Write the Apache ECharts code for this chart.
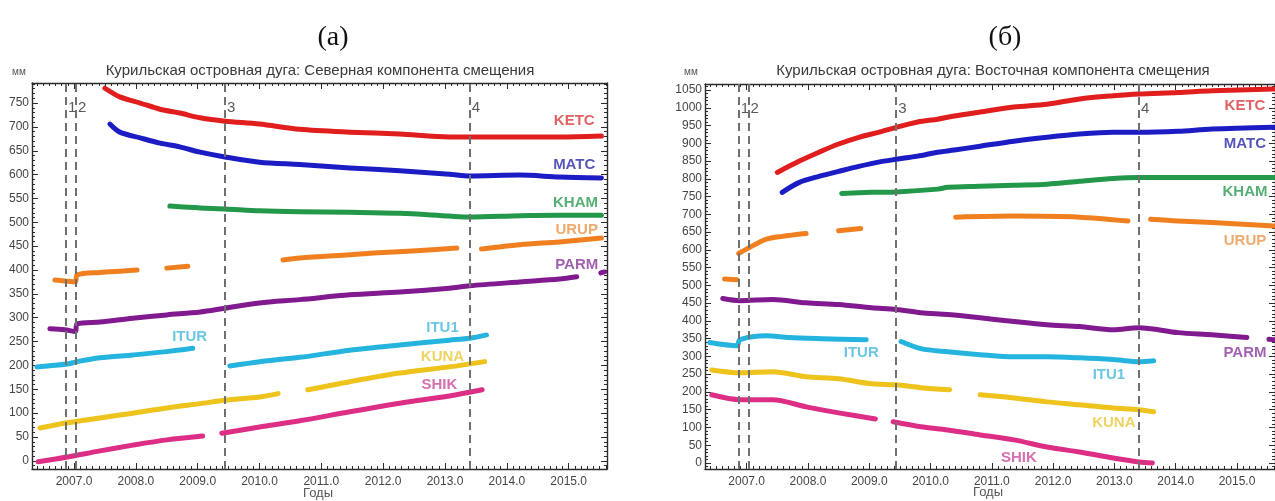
<!DOCTYPE html>
<html>
<head>
<meta charset="utf-8">
<title>Курильская островная дуга</title>
<script src="https://cdn.jsdelivr.net/npm/echarts@6/dist/echarts.min.js"></script>
<style>
  html, body { margin: 0; padding: 0; background: #ffffff; }
  #chart { width: 1275px; height: 501px; }
</style>
</head>
<body>
<div id="chart"></div>
<script>
// ---------- Data: GPS displacement time series, mm vs decimal year ----------
const xTickYears = [2007, 2008, 2009, 2010, 2011, 2012, 2013, 2014, 2015];
const northTicks = [0, 50, 100, 150, 200, 250, 300, 350, 400, 450, 500, 550, 600, 650, 700, 750];
const eastTicks = [0, 50, 100, 150, 200, 250, 300, 350, 400, 450, 500, 550, 600, 650, 700, 750, 800, 850, 900, 950, 1000, 1050];

// Events marked with dashed verticals
const eventYears = [2006.87, 2007.03, 2009.44, 2013.40];
const eventNames = ['1', '2', '3', '4'];

// North component (a); each station is a list of continuous segments
const ketcN = [[[2007.50, 781], [2007.74, 763], [2008.07, 750], [2008.39, 737], [2008.71, 729], [2009.04, 719], [2009.44, 712], [2010.00, 706], [2010.65, 695], [2011.46, 689], [2012.27, 685], [2013.07, 679], [2013.40, 679], [2014.21, 679], [2014.85, 679], [2015.53, 681]]];
const matcN = [[[2007.58, 706], [2007.74, 689], [2008.07, 677], [2008.39, 666], [2008.71, 658], [2009.04, 647], [2009.44, 637], [2010.00, 626], [2010.65, 621], [2011.46, 614], [2012.27, 608], [2013.07, 601], [2013.40, 597], [2014.21, 599], [2014.85, 595], [2015.53, 593]]];
const khamN = [[[2008.55, 534], [2009.04, 530], [2009.44, 528], [2010.00, 524], [2010.65, 522], [2011.46, 521], [2012.27, 519], [2013.07, 513], [2013.40, 511], [2014.21, 514], [2014.85, 515], [2015.53, 515]]];
const urupN = [
  [[2006.69, 379], [2006.85, 377], [2007.02, 375], [2007.05, 390], [2007.42, 395], [2007.80, 398], [2008.02, 400]],
  [[2008.50, 404], [2008.84, 408]],
  [[2010.38, 421], [2010.65, 425], [2011.46, 432], [2011.91, 436], [2012.60, 441], [2013.19, 446]],
  [[2013.59, 444], [2014.21, 453], [2014.85, 459], [2015.53, 467]]
];
const parmN = [
  [[2006.61, 277], [2006.85, 275], [2007.02, 271], [2007.05, 287], [2007.42, 291], [2007.95, 299], [2008.50, 306], [2009.04, 312], [2009.44, 320], [2010.00, 331], [2010.65, 338], [2011.46, 348], [2012.27, 354], [2013.07, 362], [2013.40, 367], [2014.21, 375], [2014.85, 381], [2015.13, 386]],
  [[2015.52, 394], [2015.58, 396]]
];
const iturN = [[[2006.40, 197], [2006.89, 203], [2007.05, 208], [2007.42, 216], [2007.95, 222], [2008.50, 229], [2008.92, 236]]];
const itu1N = [[[2009.52, 199], [2010.00, 208], [2010.65, 217], [2011.46, 232], [2012.27, 243], [2013.07, 253], [2013.40, 257], [2013.67, 264]]];
const kunaN = [
  [[2006.45, 69], [2006.89, 80], [2007.42, 90], [2007.95, 100], [2008.50, 111], [2009.04, 120], [2009.44, 127], [2010.00, 134], [2010.30, 141]],
  [[2010.78, 149], [2011.46, 166], [2012.27, 184], [2013.07, 197], [2013.64, 208]]
];
const shikN = [
  [[2006.42, -2], [2006.89, 8], [2007.42, 21], [2007.95, 33], [2008.50, 44], [2009.08, 52]],
  [[2009.39, 58], [2010.00, 71], [2010.65, 84], [2011.46, 103], [2012.27, 121], [2013.07, 136], [2013.60, 149]]
];

// East component (b)
const ketcE = [[[2007.50, 818], [2007.86, 850], [2008.18, 875], [2008.50, 898], [2008.83, 917], [2009.15, 931], [2009.44, 945], [2009.79, 960], [2010.12, 968], [2010.39, 977], [2010.81, 988], [2011.36, 1002], [2011.90, 1010], [2012.43, 1025], [2012.98, 1034], [2013.40, 1039], [2014.04, 1043], [2014.59, 1048], [2015.60, 1053]]];
const matcE = [[[2007.58, 762], [2007.86, 790], [2008.18, 807], [2008.50, 821], [2008.83, 835], [2009.15, 847], [2009.44, 855], [2009.79, 864], [2010.12, 875], [2010.39, 881], [2010.81, 892], [2011.36, 906], [2011.90, 917], [2012.43, 926], [2012.98, 931], [2013.40, 931], [2014.04, 934], [2014.59, 940], [2015.60, 945]]];
const khamE = [[[2008.55, 759], [2009.04, 762], [2009.44, 763], [2010.12, 771], [2010.28, 776], [2010.81, 779], [2011.36, 782], [2011.90, 785], [2012.43, 793], [2012.98, 801], [2013.40, 804], [2014.04, 804], [2014.59, 804], [2015.60, 804]]];
const urupE = [
  [[2006.64, 518], [2006.84, 516]],
  [[2006.87, 590], [2007.05, 607], [2007.32, 630], [2007.58, 638], [2007.97, 646]],
  [[2008.50, 654], [2008.86, 660]],
  [[2010.41, 692], [2011.36, 695], [2012.43, 692], [2013.22, 681]],
  [[2013.59, 686], [2014.04, 681], [2014.59, 677], [2015.60, 667]]
];
const parmE = [
  [[2006.61, 463], [2006.89, 457], [2007.42, 460], [2007.97, 451], [2008.50, 446], [2009.04, 437], [2009.44, 432], [2009.84, 423], [2010.28, 418], [2010.81, 409], [2011.36, 398], [2011.90, 389], [2012.43, 384], [2012.98, 375], [2013.40, 381], [2014.04, 367], [2014.59, 361], [2015.16, 353]],
  [[2015.52, 348], [2015.60, 347]]
];
const iturE = [[[2006.40, 339], [2006.84, 330], [2006.89, 347], [2007.32, 358], [2007.69, 353], [2008.23, 350], [2008.95, 347]]];
const itu1E = [[[2009.52, 342], [2009.84, 322], [2010.28, 313], [2010.81, 305], [2011.36, 299], [2011.90, 299], [2012.43, 296], [2012.98, 291], [2013.40, 285], [2013.64, 288]]];
const kunaE = [
  [[2006.43, 262], [2006.89, 254], [2007.42, 257], [2007.97, 243], [2008.50, 237], [2009.04, 223], [2009.44, 220], [2009.84, 212], [2010.31, 206]],
  [[2010.81, 192], [2011.36, 183], [2011.90, 172], [2012.43, 164], [2012.98, 155], [2013.40, 150], [2013.64, 144]]
];
const shikE = [
  [[2006.43, 192], [2006.89, 178], [2007.42, 178], [2007.97, 158], [2008.50, 141], [2009.10, 124]],
  [[2009.39, 116], [2009.84, 102], [2010.28, 93], [2010.81, 79], [2011.36, 65], [2011.90, 45], [2012.43, 31], [2012.98, 14], [2013.40, 3], [2013.62, 0]]
];

// Station name annotations: [name, year, mm]
const northNames = [['KETC', 2015.09, 712], ['MATC', 2015.09, 620], ['KHAM', 2015.11, 541], ['URUP', 2015.13, 484], ['PARM', 2015.13, 411], ['ITUR', 2008.87, 260], ['ITU1', 2012.96, 279], ['KUNA', 2012.96, 218], ['SHIK', 2012.91, 159]];
const eastNames = [['KETC', 2015.13, 1005], ['MATC', 2015.13, 898], ['KHAM', 2015.13, 762], ['URUP', 2015.13, 624], ['PARM', 2015.13, 310], ['ITUR', 2008.87, 310], ['ITU1', 2012.91, 248], ['KUNA', 2012.99, 113], ['SHIK', 2011.44, 14]];

// ---------- Styling ----------
const lineColors = { KETC: '#e01e1e', MATC: '#1c1cc4', KHAM: '#23974a', URUP: '#f0801f', PARM: '#801a8e', ITUR: '#25b4de', ITU1: '#25b4de', KUNA: '#eec31b', SHIK: '#dd2e86' };
const nameColors = { KETC: '#d73a3a', MATC: '#2b2ba8', KHAM: '#2c9a52', URUP: '#e8954a', PARM: '#8a3a9c', ITUR: '#45b8da', ITU1: '#45b8da', KUNA: '#e9c83a', SHIK: '#c94b9c' };
const FRAME = '#2b2b2b';
const X_MIN = 2006.32, X_MAX = 2015.62;

function range(a, b, step) {
  const out = [];
  for (let v = a; v <= b + 1e-9; v += step) out.push(Math.round(v * 1000) / 1000);
  return out;
}
const xMinor = range(2006.4, 2015.6, 0.1);

function buildAxes(gi, yMin, yMax, yMajor) {
  const yMinor = range(Math.ceil(yMin / 10) * 10, yMax, 10);
  const line = { show: true, onZero: false, lineStyle: { color: FRAME, width: 1.4 } };
  const noLine = { show: false, onZero: false };
  const base = { gridIndex: gi, type: 'value', splitLine: { show: false }, silent: true };
  const xs = [
    Object.assign({}, base, { min: X_MIN, max: X_MAX, position: 'bottom', axisLine: line,
      axisTick: { show: true, inside: true, length: 6, customValues: xTickYears, lineStyle: { color: FRAME } },
      axisLabel: { show: true, customValues: xTickYears, formatter: v => v.toFixed(1), color: '#454545', fontSize: 12, fontFamily: 'Liberation Sans, Arial, sans-serif', margin: 7 } }),
    Object.assign({}, base, { min: X_MIN, max: X_MAX, position: 'bottom', axisLine: noLine,
      axisTick: { show: true, inside: true, length: 3, customValues: xMinor, lineStyle: { color: FRAME } }, axisLabel: { show: false } }),
    Object.assign({}, base, { min: X_MIN, max: X_MAX, position: 'top', axisLine: line,
      axisTick: { show: true, inside: true, length: 6, customValues: xTickYears, lineStyle: { color: FRAME } }, axisLabel: { show: false } }),
    Object.assign({}, base, { min: X_MIN, max: X_MAX, position: 'top', axisLine: noLine,
      axisTick: { show: true, inside: true, length: 3, customValues: xMinor, lineStyle: { color: FRAME } }, axisLabel: { show: false } })
  ];
  const ys = [
    Object.assign({}, base, { min: yMin, max: yMax, position: 'left', axisLine: line,
      axisTick: { show: true, inside: true, length: 6, customValues: yMajor, lineStyle: { color: FRAME } },
      axisLabel: { show: true, customValues: yMajor, formatter: v => String(Math.round(v)), color: '#454545', fontSize: 12, fontFamily: 'Liberation Sans, Arial, sans-serif', margin: 3 } }),
    Object.assign({}, base, { min: yMin, max: yMax, position: 'left', axisLine: noLine,
      axisTick: { show: true, inside: true, length: 3, customValues: yMinor, lineStyle: { color: FRAME } }, axisLabel: { show: false } }),
    Object.assign({}, base, { min: yMin, max: yMax, position: 'right', axisLine: line,
      axisTick: { show: true, inside: true, length: 6, customValues: yMajor, lineStyle: { color: FRAME } }, axisLabel: { show: false } }),
    Object.assign({}, base, { min: yMin, max: yMax, position: 'right', axisLine: noLine,
      axisTick: { show: true, inside: true, length: 3, customValues: yMinor, lineStyle: { color: FRAME } }, axisLabel: { show: false } })
  ];
  return { xs, ys };
}

function buildSeries(axisIdx, stations, names, eventLabelY) {
  const out = [];
  stations.forEach(([name, segments]) => {
    segments.forEach((seg, k) => {
      out.push({
        type: 'line', name: name + '-' + k, xAxisIndex: axisIdx, yAxisIndex: axisIdx,
        data: seg, showSymbol: false, symbol: 'none', smooth: 0.3, silent: true,
        lineStyle: { color: lineColors[name], width: 5, cap: 'round', join: 'round' },
        z: 3
      });
    });
  });
  // Event markers: dashed verticals with their numbers
  out.push({
    type: 'scatter', xAxisIndex: axisIdx, yAxisIndex: axisIdx, symbolSize: 0, silent: true,
    data: eventYears.map((x, i) => ({ value: [x, eventLabelY], name: eventNames[i] })),
    label: { show: true, position: 'right', distance: 2, formatter: p => p.name, color: '#2f2f2f', fontSize: 15, fontFamily: 'Liberation Sans, Arial, sans-serif' },
    markLine: {
      silent: true, symbol: ['none', 'none'], animation: false,
      label: { show: false },
      lineStyle: { color: '#707070', type: [8, 5], width: 2 },
      data: eventYears.map(x => ({ xAxis: x }))
    },
    z: 2
  });
  // Station names
  out.push({
    type: 'scatter', xAxisIndex: axisIdx, yAxisIndex: axisIdx, symbolSize: 0, silent: true,
    data: names.map(([n, x, y]) => ({ value: [x, y], name: n, label: { color: nameColors[n] } })),
    label: { show: true, position: 'inside', formatter: p => p.name, fontSize: 15, fontWeight: 'bold', fontFamily: 'Liberation Sans, Arial, sans-serif' },
    z: 5
  });
  return out;
}

const northStations = [['KETC', ketcN], ['MATC', matcN], ['KHAM', khamN], ['URUP', urupN], ['PARM', parmN], ['ITUR', iturN], ['ITU1', itu1N], ['KUNA', kunaN], ['SHIK', shikN]];
const eastStations = [['KETC', ketcE], ['MATC', matcE], ['KHAM', khamE], ['URUP', urupE], ['PARM', parmE], ['ITUR', iturE], ['ITU1', itu1E], ['KUNA', kunaE], ['SHIK', shikE]];

const axN = buildAxes(0, -17, 792, northTicks);
const axE = buildAxes(1, -17, 1067, eastTicks);

const textFont = 'Liberation Sans, Arial, sans-serif';
function text(x, y, str, font, color, align) {
  return { type: 'text', x, y, silent: true, style: { text: str, font, fill: color, align: align || 'center', verticalAlign: 'middle' } };
}

const option = {
  animation: false,
  backgroundColor: '#ffffff',
  grid: [
    { left: 32, top: 83, width: 575, height: 386, containLabel: false },
    { left: 705, top: 84, width: 575, height: 385, containLabel: false }
  ],
  xAxis: axN.xs.concat(axE.xs),
  yAxis: axN.ys.concat(axE.ys),
  series: buildSeries(0, northStations, northNames, 740).concat(buildSeries(4, eastStations, eastNames, 996)),
  graphic: [
    text(333, 38, '(а)', '28px "Liberation Serif", "Times New Roman", serif', '#111'),
    text(1005, 38, '(б)', '28px "Liberation Serif", "Times New Roman", serif', '#111'),
    text(320, 71, 'Курильская островная дуга: Северная компонента смещения', '15px ' + textFont, '#3a3a3a'),
    text(993, 71, 'Курильская островная дуга: Восточная компонента смещения', '15px ' + textFont, '#3a3a3a'),
    text(12, 72, 'мм', '10px ' + textFont, '#555', 'left'),
    text(684, 72, 'мм', '10px ' + textFont, '#555', 'left'),
    text(318, 493, 'Годы', '13px ' + textFont, '#555'),
    text(988, 492, 'Годы', '13px ' + textFont, '#555')
  ]
};

const chart = echarts.init(document.getElementById('chart'), null, { renderer: 'canvas' });
chart.setOption(option);
</script>
</body>
</html>
